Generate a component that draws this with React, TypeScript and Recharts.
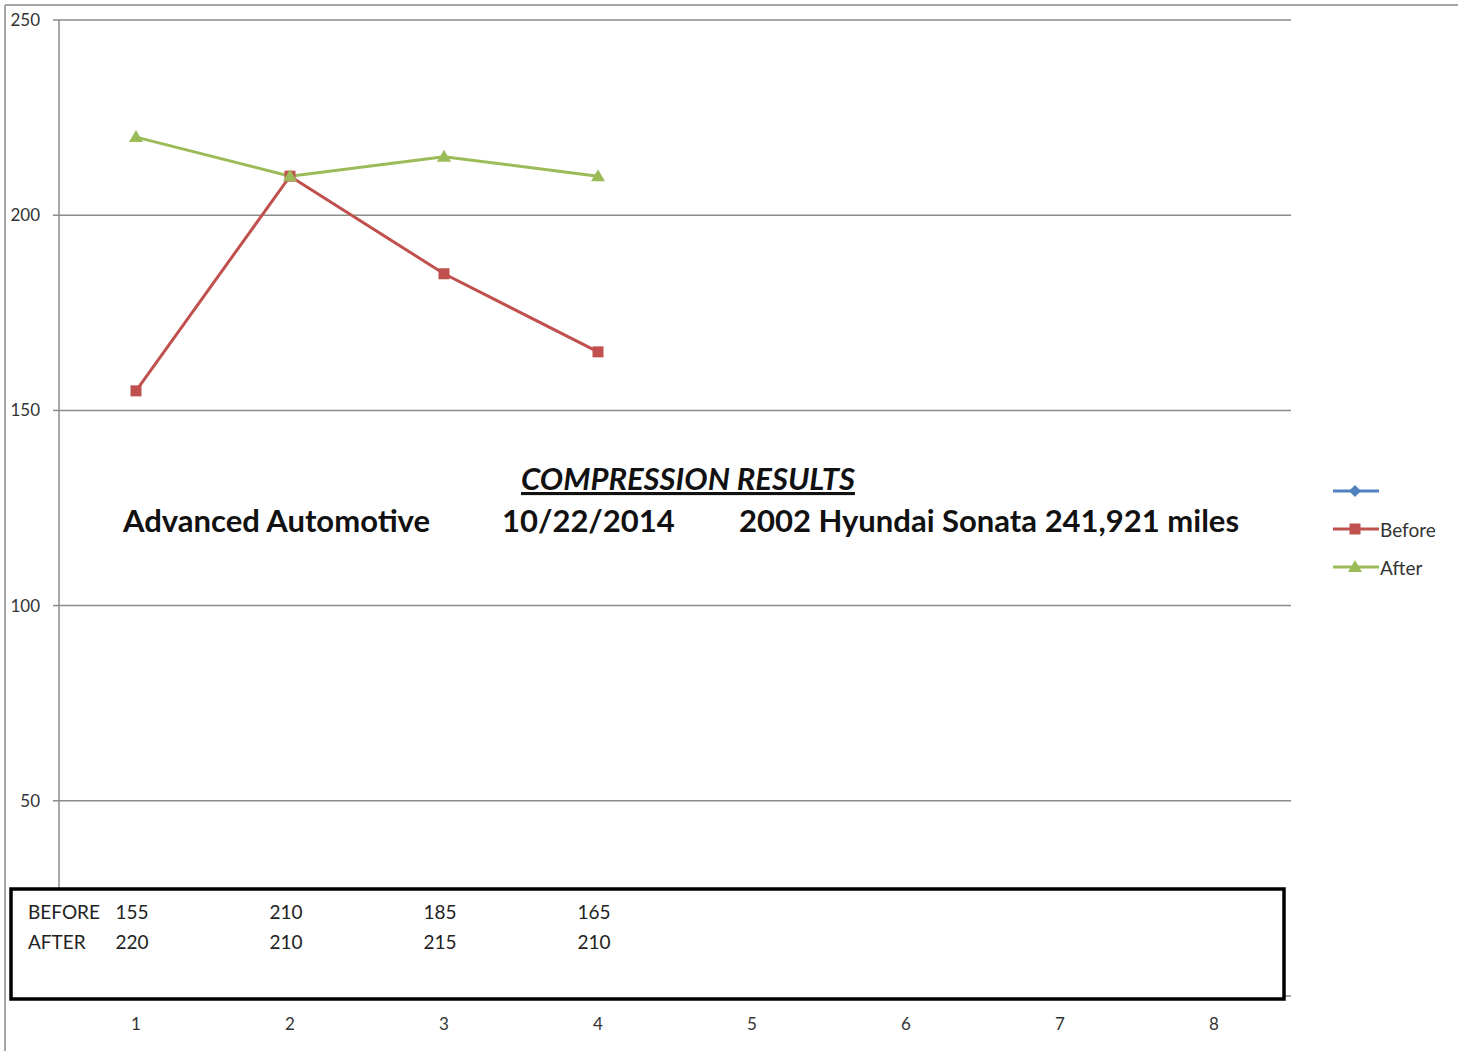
import { LineChart, Line, XAxis, YAxis, CartesianGrid, Legend, LabelList, Customized } from 'recharts';

const cylinders = ['1', '2', '3', '4', '5', '6', '7', '8'];
const blankValues: (number | null)[] = [null, null, null, null, null, null, null, null];
const beforeValues: (number | null)[] = [155, 210, 185, 165, null, null, null, null];
const afterValues: (number | null)[] = [220, 210, 215, 210, null, null, null, null];
const yTicks = [50, 100, 150, 200, 250];

const seriesOrder = ['blank', 'before', 'after'];
const seriesNames: Record<string, string> = { blank: '', before: 'Before', after: 'After' };
const seriesColors: Record<string, string> = { blank: '#4F81BD', before: '#C0504D', after: '#9BBB59' };

const FONT = 'Lato, "Open Sans", sans-serif';
const TABLE_ROW_Y = { before: 912, after: 942 };
const AXIS_GRAY = '#8c8c8c';

const data = cylinders.map((c, i) => ({
  cyl: c,
  blank: blankValues[i],
  before: beforeValues[i],
  after: afterValues[i],
}));

function marker(kind: string, cx: number, cy: number, color: string) {
  if (kind === 'before') {
    return <rect x={cx - 5.5} y={cy - 5.5} width={11} height={11} fill={color} />;
  }
  if (kind === 'after') {
    return <polygon points={`${cx},${cy - 7} ${cx - 7},${cy + 5} ${cx + 7},${cy + 5}`} fill={color} />;
  }
  return <polygon points={`${cx},${cy - 6} ${cx + 6},${cy} ${cx},${cy + 6} ${cx - 6},${cy}`} fill={color} />;
}

const makeDot = (kind: string) => (props: any) => {
  const { cx, cy, value, index } = props;
  if (value == null || cx == null || cy == null) return <g key={`${kind}-${index}`} />;
  return <g key={`${kind}-${index}`}>{marker(kind, cx, cy, seriesColors[kind])}</g>;
};

// the data table under the plot: values sit under each cylinder's x position
const makeTableCell = (kind: 'before' | 'after') => (props: any) => {
  const { x, value, index } = props;
  if (value == null || x == null) return null;
  return (
    <text key={`${kind}-cell-${index}`} x={Number(x) - 4} y={TABLE_ROW_Y[kind]} dy="0.35em" textAnchor="middle"
      fontSize={19} fontFamily={FONT} fill="#222">
      {value}
    </text>
  );
};

function Overlay() {
  return (
    <g>
      <line x1={5} y1={5} x2={1458} y2={5} stroke="#a6a6a6" strokeWidth={2} />
      <line x1={5} y1={5} x2={5} y2={1051} stroke="#a6a6a6" strokeWidth={2} />
      <rect x={11} y={889} width={1273} height={110} fill="#fff" stroke="#000" strokeWidth={3.5} />
      <text x={28} y={TABLE_ROW_Y.before} dy="0.35em" fontSize={19} fontFamily={FONT} fill="#222">BEFORE</text>
      <text x={28} y={TABLE_ROW_Y.after} dy="0.35em" fontSize={19} fontFamily={FONT} fill="#222">AFTER</text>
      <text x={688} y={490} textAnchor="middle" fontSize={31} fontWeight="bold" fontStyle="italic"
        fontFamily={FONT} fill="#111" textDecoration="underline">COMPRESSION RESULTS</text>
      <text x={123} y={532} fontSize={31} fontWeight="bold" fontFamily={FONT} fill="#111">Advanced Automotive</text>
      <text x={502} y={532} fontSize={31} fontWeight="bold" fontFamily={FONT} fill="#111">10/22/2014</text>
      <text x={739} y={532} fontSize={31} fontWeight="bold" fontFamily={FONT} fill="#111">2002 Hyundai Sonata 241,921 miles</text>
    </g>
  );
}

function LegendContent({ payload }: any) {
  const entries = [...(payload || [])].sort(
    (a: any, b: any) => seriesOrder.indexOf(String(a.dataKey)) - seriesOrder.indexOf(String(b.dataKey)),
  );
  return (
    <div style={{ fontFamily: FONT }}>
      {entries.map((entry: any) => {
        const key = String(entry.dataKey);
        return (
          <div key={key} style={{ display: 'flex', alignItems: 'center', height: 38 }}>
            <svg width={46} height={16} style={{ display: 'block' }}>
              <line x1={0} y1={8} x2={46} y2={8} stroke={seriesColors[key]} strokeWidth={3} />
              {marker(key, 22, 8, seriesColors[key])}
            </svg>
            <span style={{ fontSize: 19, color: '#333', marginLeft: 1 }}>{seriesNames[key]}</span>
          </div>
        );
      })}
    </div>
  );
}

export default function App() {
  return (
    <div style={{ position: 'absolute', left: 0, top: 0, width: 1458, height: 1051, background: '#fff' }}>
      <LineChart width={1458} height={1051} data={data} margin={{ top: 20, right: 167, bottom: 25, left: 0 }}>
        <CartesianGrid stroke={AXIS_GRAY} strokeWidth={1.5} verticalPoints={[59]} />
        <XAxis dataKey="cyl" height={30} padding={{ left: 77, right: 77 }} axisLine={false} tickLine={false}
          tickMargin={16} tick={{ fontSize: 17, fill: '#333', fontFamily: FONT }} />
        <YAxis width={59} domain={[0, 250]} ticks={yTicks} axisLine={false}
          tickLine={{ stroke: AXIS_GRAY, strokeWidth: 1.5 }} tickSize={6} tickMargin={13}
          tick={{ fontSize: 17, fill: '#333', fontFamily: FONT }} />
        <Customized component={<Overlay />} />
        <Legend layout="vertical" align="center" verticalAlign="middle" content={<LegendContent />}
          wrapperStyle={{ left: 1333, top: 472, width: 124 }} />
        <Line dataKey="blank" name=" " stroke={seriesColors.blank} strokeWidth={3} dot={makeDot('blank')}
          isAnimationActive={false} />
        <Line dataKey="before" name="Before" stroke={seriesColors.before} strokeWidth={3} dot={makeDot('before')}
          activeDot={false} isAnimationActive={false}>
          <LabelList dataKey="before" content={makeTableCell('before')} />
        </Line>
        <Line dataKey="after" name="After" stroke={seriesColors.after} strokeWidth={3} dot={makeDot('after')}
          activeDot={false} isAnimationActive={false}>
          <LabelList dataKey="after" content={makeTableCell('after')} />
        </Line>
      </LineChart>
    </div>
  );
}
